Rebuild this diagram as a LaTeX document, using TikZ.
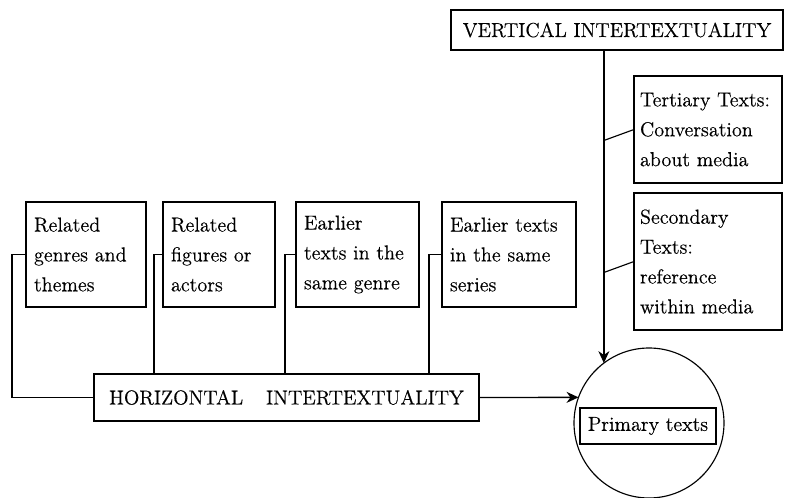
\documentclass[tikz,border=0pt]{standalone}
\usepackage{fontspec}
\setmainfont{Latin Modern Roman}[FakeBold=0.4]
\usepackage{tikz}
\usetikzlibrary{
  arrows.meta,
  calc,
  positioning
}
\colorlet{ink}{black}
\tikzset{
  >={Stealth[length=2.4mm,width=2.2mm]},
  arrow/.style={-{Stealth[length=2.4mm,width=2.2mm]}, draw=ink, line width=0.75pt},
  connector/.style={draw=ink, line width=0.65pt},
  textbox/.style={
    draw=ink,
    line width=0.65pt,
    outer sep=0pt,
    inner xsep=0.16cm,
    inner ysep=0pt,
    align=left,
    font=\fontsize{11.5}{17}\selectfont,
    text=ink
  },
  labelbox/.style={
    draw=ink,
    line width=0.65pt,
    outer sep=0pt,
    inner sep=0pt,
    font=\fontsize{11.5}{14}\selectfont,
    text=ink
  },
  primring/.style={
    circle,
    draw=ink,
    line width=0.65pt,
    outer sep=0pt,
    inner sep=0pt,
    minimum size=3.0cm
  }
}

\begin{document}
\begin{tikzpicture}[x=1cm,y=1cm]
  \useasboundingbox (0,0) rectangle (15.7,9.96);

  \node[labelbox, minimum width=6.64cm, minimum height=0.80cm] (vert) at (12.34,9.36) {VERTICAL INTERTEXTUALITY};
  \node[labelbox, minimum width=7.70cm, minimum height=0.94cm] (horiz) at (5.73,2.01) {HORIZONTAL\hspace{13pt}INTERTEXTUALITY};

  \node[primring] (ring) at (12.98,1.50) {};
  \node[labelbox, minimum width=2.72cm, minimum height=0.72cm] (primary) at (12.96,1.44) {Primary texts};

  \node[textbox, text width=2.08cm, minimum height=2.10cm] (relgenre) at (1.72,4.87) {Related\\genres and\\themes};
  \node[textbox, text width=1.92cm, minimum height=2.10cm] (relfig) at (4.38,4.87) {Related\\figures or\\actors};
  \node[textbox, text width=2.14cm, minimum height=2.10cm] (earlgenre) at (7.15,4.87) {Earlier\\texts in the\\same genre};
  \node[textbox, text width=2.36cm, minimum height=2.10cm] (earlseries) at (10.18,4.87) {Earlier texts\\in the same\\series};

  \node[textbox, inner xsep=0.12cm, text width=2.72cm, minimum height=2.14cm] (tertiary) at (14.16,7.37) {Tertiary Texts:\\Conversation\\about media};
  \node[textbox, inner xsep=0.12cm, text width=2.72cm, minimum height=2.74cm] (secondary) at (14.16,4.73) {Secondary\\Texts:\\reference\\within media};

  \coordinate (vtop) at (vert.south -| ring.127);
  \draw[arrow] (vtop) -- (ring.127);
  \draw[connector] (tertiary.west) -- ($(tertiary.west -| vtop)+(0,-0.22)$);
  \draw[connector] (secondary.west) -- ($(secondary.west -| vtop)+(0,-0.22)$);

  \draw[arrow] (horiz.east) -- (ring.160);
  \draw[connector] (relgenre.west) -- ++(-0.28,0) |- (horiz.west);
  \foreach \n/\d in {relfig/0.18,earlgenre/0.22,earlseries/0.26}{
    \draw[connector] (\n.west) -- ++(-\d,0) coordinate (hook) -- (hook |- horiz.north);
  }
\end{tikzpicture}
\end{document}
